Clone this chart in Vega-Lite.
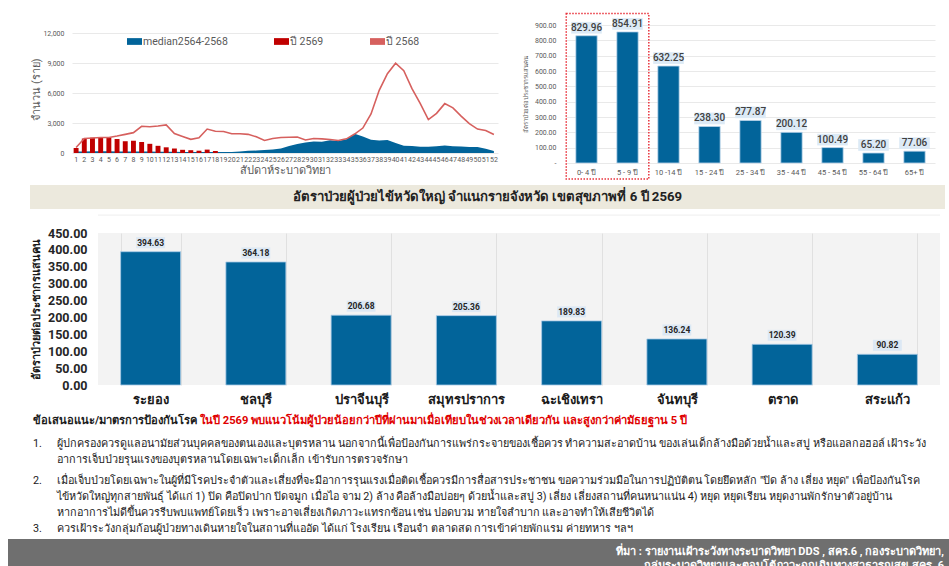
{
  "$schema": "https://vega.github.io/schema/vega-lite/v6.json",
  "background": "white",
  "padding": {"left": 8, "top": 12, "right": 0, "bottom": 0},
  "autosize": {"type": "pad"},
  "config": {
    "font": "Roboto",
    "view": {"stroke": null},
    "axis": {"domain": false, "ticks": false, "labelColor": "#595959", "titleColor": "#595959", "titleFontWeight": "normal", "gridColor": "#e9e9e9"}
  },
  "resolve": {"scale": {"color": "independent"}, "legend": {"color": "independent"}},
  "spacing": 5,
  "vconcat": [
    {
      "spacing": 0,
      "hconcat": [
        {"width": 22, "height": 1, "data": {"values": []}, "mark": "point"},
        {
          "spacing": 24,
          "hconcat": [
            {
              "width": 426,
              "height": 128,
              "layer": [
                {
                  "data": {"name": "weekly"},
                  "mark": {"type": "area", "opacity": 1},
                  "encoding": {
                    "x": {"field": "week", "type": "ordinal", "bandPosition": 0.5, "scale": {"type": "band", "paddingInner": 0.4, "paddingOuter": 0.2}, "axis": {"title": "สัปดาห์ระบาดวิทยา", "labelAngle": 0, "labelFontSize": 7, "labelPadding": 2, "titleFontSize": 11, "titlePadding": 2, "labelOverlap": false}},
                    "y": {"field": "median", "type": "quantitative", "scale": {"domain": [0, 12832], "nice": false},
                      "axis": {"title": "จำนวน (ราย)", "values": [0, 3000, 6000, 9000, 12000], "labelExpr": "format(datum.value, ',')", "labelFontSize": 7, "labelPadding": 8, "titleFontSize": 11, "titlePadding": 2, "minExtent": 29, "maxExtent": 29, "grid": true}},
                    "color": {"datum": "median2564-2568", "type": "nominal",
                      "scale": {"domain": ["median2564-2568", "ปี 2569", "ปี 2568"], "range": ["#02649a", "#c00000", "#d6605e"]},
                      "legend": {"orient": "none", "legendX": 119, "legendY": 9, "direction": "horizontal", "title": null, "labelFontSize": 10.5, "labelColor": "#595959", "symbolSize": 225, "symbolType": "M-1,-0.45H1V0.45H-1Z", "symbolStrokeWidth": 0, "columnPadding": 46, "labelOffset": 1}
                    }
                  }
                },
                {
                  "data": {"name": "weekly"},
                  "mark": {"type": "bar"},
                  "encoding": {
                    "x": {"field": "week", "type": "ordinal", "scale": {"type": "band", "paddingInner": 0.4, "paddingOuter": 0.2}, "axis": {"title": "สัปดาห์ระบาดวิทยา", "labelAngle": 0, "labelFontSize": 7, "labelPadding": 2, "titleFontSize": 11, "titlePadding": 2, "labelOverlap": false}},
                    "y": {"field": "y2569", "type": "quantitative", "scale": {"domain": [0, 12832], "nice": false},
                      "axis": {"title": "จำนวน (ราย)", "values": [0, 3000, 6000, 9000, 12000], "labelExpr": "format(datum.value, ',')", "labelFontSize": 7, "labelPadding": 8, "titleFontSize": 11, "titlePadding": 2, "minExtent": 29, "maxExtent": 29, "grid": true}},
                    "color": {"datum": "ปี 2569", "type": "nominal"}
                  }
                },
                {
                  "data": {"name": "weekly"},
                  "mark": {"type": "line", "strokeWidth": 1.6},
                  "encoding": {
                    "x": {"field": "week", "type": "ordinal", "bandPosition": 0.5, "scale": {"type": "band", "paddingInner": 0.4, "paddingOuter": 0.2}, "axis": {"title": "สัปดาห์ระบาดวิทยา", "labelAngle": 0, "labelFontSize": 7, "labelPadding": 2, "titleFontSize": 11, "titlePadding": 2, "labelOverlap": false}},
                    "y": {"field": "y2568", "type": "quantitative", "scale": {"domain": [0, 12832], "nice": false},
                      "axis": {"title": "จำนวน (ราย)", "values": [0, 3000, 6000, 9000, 12000], "labelExpr": "format(datum.value, ',')", "labelFontSize": 7, "labelPadding": 8, "titleFontSize": 11, "titlePadding": 2, "minExtent": 29, "maxExtent": 29, "grid": true}},
                    "color": {"datum": "ปี 2568", "type": "nominal"}
                  }
                }
              ]
            },
            {
              "width": 369,
              "height": 138,
              "layer": [
                {
                  "data": {"name": "ages"},
                  "mark": {"type": "bar", "color": "#02649a", "stroke": "#bcd6ec", "strokeWidth": 0.8},
                  "encoding": {
                    "x": {"field": "age", "type": "nominal", "sort": null, "scale": {"type": "band", "paddingInner": 0.48, "paddingOuter": 0.24}, "axis": {"title": null, "labelAngle": 0, "labelFontSize": 7.5, "labelPadding": 5}},
                    "y": {"field": "rate", "type": "quantitative", "scale": {"domain": [0, 900], "nice": false},
                      "axis": {"title": "อัตราป่วยต่อประชากรแสนคน", "titleFontSize": 6, "values": [0, 100, 200, 300, 400, 500, 600, 700, 800, 900], "labelExpr": "datum.value === 0 ? '-' : format(datum.value, ',.2f')", "labelFontSize": 7, "labelPadding": 10, "labelOverlap": false, "minExtent": 36, "maxExtent": 36, "titlePadding": 2, "grid": true}}
                  }
                },
                {
                  "data": {"name": "ages"},
                  "mark": {"type": "point", "shape": "M-1.7,-0.65H1.7V0.65H-1.7Z", "size": 324, "filled": true, "color": "#dceaf6", "opacity": 1, "yOffset": -8},
                  "encoding": {
                    "x": {"field": "age", "type": "nominal", "sort": null, "scale": {"type": "band", "paddingInner": 0.48, "paddingOuter": 0.24}, "axis": {"title": null, "labelAngle": 0, "labelFontSize": 7.5, "labelPadding": 5}},
                    "y": {"field": "rate", "type": "quantitative", "scale": {"domain": [0, 900], "nice": false},
                      "axis": {"title": "อัตราป่วยต่อประชากรแสนคน", "titleFontSize": 6, "values": [0, 100, 200, 300, 400, 500, 600, 700, 800, 900], "labelExpr": "datum.value === 0 ? '-' : format(datum.value, ',.2f')", "labelFontSize": 7, "labelPadding": 10, "labelOverlap": false, "minExtent": 36, "maxExtent": 36, "titlePadding": 2, "grid": true}}
                  }
                },
                {
                  "data": {"name": "ages"},
                  "mark": {"type": "text", "fontSize": 10, "fontWeight": 500, "color": "#404040", "dy": -8},
                  "encoding": {
                    "x": {"field": "age", "type": "nominal", "sort": null, "scale": {"type": "band", "paddingInner": 0.48, "paddingOuter": 0.24}, "axis": {"title": null, "labelAngle": 0, "labelFontSize": 7.5, "labelPadding": 5}},
                    "y": {"field": "rate", "type": "quantitative", "scale": {"domain": [0, 900], "nice": false},
                      "axis": {"title": "อัตราป่วยต่อประชากรแสนคน", "titleFontSize": 6, "values": [0, 100, 200, 300, 400, 500, 600, 700, 800, 900], "labelExpr": "datum.value === 0 ? '-' : format(datum.value, ',.2f')", "labelFontSize": 7, "labelPadding": 10, "labelOverlap": false, "minExtent": 36, "maxExtent": 36, "titlePadding": 2, "grid": true}},
                    "text": {"field": "rate", "type": "quantitative", "format": ".2f"}
                  }
                },
                {
                  "data": {"values": [{}]},
                  "mark": {"type": "rect", "fill": "transparent", "stroke": "#e8323c", "strokeDash": [1.5, 1.5], "strokeWidth": 1.5},
                  "encoding": {
                    "x": {"datum": "0- 4 ปี", "type": "nominal", "bandPosition": -0.45, "scale": {"type": "band", "paddingInner": 0.48, "paddingOuter": 0.24}, "axis": {"title": null, "labelAngle": 0, "labelFontSize": 7.5, "labelPadding": 5}},
                    "x2": {"datum": "5 - 9 ปี", "bandPosition": 1.5},
                    "y": {"datum": 975, "type": "quantitative", "scale": {"domain": [0, 900], "nice": false},
                      "axis": {"title": "อัตราป่วยต่อประชากรแสนคน", "titleFontSize": 6, "values": [0, 100, 200, 300, 400, 500, 600, 700, 800, 900], "labelExpr": "datum.value === 0 ? '-' : format(datum.value, ',.2f')", "labelFontSize": 7, "labelPadding": 10, "labelOverlap": false, "minExtent": 36, "maxExtent": 36, "titlePadding": 2, "grid": true}},
                    "y2": {"datum": -105}
                  }
                }
              ]
            }
          ]
        }
      ]
    },
    {
      "spacing": 0,
      "hconcat": [
        {"width": 22, "height": 1, "data": {"values": []}, "mark": "point"},
        {
          "width": 915,
          "height": 24,
          "view": {"fill": "#ece9dd", "stroke": null},
          "data": {"values": [{"t": "อัตราป่วยผู้ป่วยไข้หวัดใหญ่ จำแนกรายจังหวัด เขตสุขภาพที่ 6 ปี 2569"}]},
          "mark": {"type": "text", "fontSize": 13.2, "fontWeight": "bold", "color": "#222222"},
          "encoding": {"text": {"field": "t", "type": "nominal"}}
        }
      ]
    },
    {
      "spacing": 0,
      "hconcat": [
        {"width": 22, "height": 1, "data": {"values": []}, "mark": "point"},
        {
          "width": 842,
          "height": 152,
          "view": {"fill": "#f3f3f3", "stroke": null},
          "layer": [
            {
              "data": {"values": [{}]},
              "mark": {"type": "rule", "color": "#eeeeee"},
              "encoding": {
                "y": {"datum": 503, "type": "quantitative", "scale": {"domain": [0, 450], "nice": false},
                  "axis": {"title": "อัตราป่วยต่อประชากรแสนคน", "titleFontSize": 11, "titleFontWeight": "bold", "titleColor": "#1a1a1a", "values": [0, 50, 100, 150, 200, 250, 300, 350, 400, 450], "labelExpr": "format(datum.value, '.2f')", "labelFontSize": 12.5, "labelFontWeight": "bold", "labelColor": "#262626", "labelPadding": 11, "labelOverlap": false, "minExtent": 55, "maxExtent": 55, "titlePadding": 2, "gridColor": "#e0e0e0"}}
              }
            },
            {
              "data": {"name": "prov"},
              "mark": {"type": "bar", "color": "#02649a", "stroke": "#a7c9e6", "strokeWidth": 0.8},
              "encoding": {
                "x": {"field": "province", "type": "nominal", "sort": null, "scale": {"type": "band", "paddingInner": 0.43, "paddingOuter": 0.215},
                  "axis": {"title": null, "labelAngle": 0, "labelFontSize": 13, "labelFontWeight": "bold", "labelColor": "#1a1a1a", "labelPadding": 8, "grid": true, "gridColor": "#e0e0e0", "tickBand": "extent"}},
                "y": {"field": "rate", "type": "quantitative", "scale": {"domain": [0, 450], "nice": false},
                  "axis": {"title": "อัตราป่วยต่อประชากรแสนคน", "titleFontSize": 11, "titleFontWeight": "bold", "titleColor": "#1a1a1a", "values": [0, 50, 100, 150, 200, 250, 300, 350, 400, 450], "labelExpr": "format(datum.value, '.2f')", "labelFontSize": 12.5, "labelFontWeight": "bold", "labelColor": "#262626", "labelPadding": 11, "labelOverlap": false, "minExtent": 55, "maxExtent": 55, "titlePadding": 2, "gridColor": "#e0e0e0"}}
              }
            },
            {
              "data": {"name": "prov"},
              "mark": {"type": "point", "shape": "M-1.7,-0.65H1.7V0.65H-1.7Z", "size": 289, "filled": true, "color": "#dce8f4", "opacity": 1, "yOffset": -9},
              "encoding": {
                "x": {"field": "province", "type": "nominal", "sort": null, "scale": {"type": "band", "paddingInner": 0.43, "paddingOuter": 0.215},
                  "axis": {"title": null, "labelAngle": 0, "labelFontSize": 13, "labelFontWeight": "bold", "labelColor": "#1a1a1a", "labelPadding": 8, "grid": true, "gridColor": "#e0e0e0", "tickBand": "extent"}},
                "y": {"field": "rate", "type": "quantitative", "scale": {"domain": [0, 450], "nice": false},
                  "axis": {"title": "อัตราป่วยต่อประชากรแสนคน", "titleFontSize": 11, "titleFontWeight": "bold", "titleColor": "#1a1a1a", "values": [0, 50, 100, 150, 200, 250, 300, 350, 400, 450], "labelExpr": "format(datum.value, '.2f')", "labelFontSize": 12.5, "labelFontWeight": "bold", "labelColor": "#262626", "labelPadding": 11, "labelOverlap": false, "minExtent": 55, "maxExtent": 55, "titlePadding": 2, "gridColor": "#e0e0e0"}}
              }
            },
            {
              "data": {"name": "prov"},
              "mark": {"type": "text", "fontSize": 8.5, "fontWeight": "bold", "color": "#262626", "dy": -9},
              "encoding": {
                "x": {"field": "province", "type": "nominal", "sort": null, "scale": {"type": "band", "paddingInner": 0.43, "paddingOuter": 0.215},
                  "axis": {"title": null, "labelAngle": 0, "labelFontSize": 13, "labelFontWeight": "bold", "labelColor": "#1a1a1a", "labelPadding": 8, "grid": true, "gridColor": "#e0e0e0", "tickBand": "extent"}},
                "y": {"field": "rate", "type": "quantitative", "scale": {"domain": [0, 450], "nice": false},
                  "axis": {"title": "อัตราป่วยต่อประชากรแสนคน", "titleFontSize": 11, "titleFontWeight": "bold", "titleColor": "#1a1a1a", "values": [0, 50, 100, 150, 200, 250, 300, 350, 400, 450], "labelExpr": "format(datum.value, '.2f')", "labelFontSize": 12.5, "labelFontWeight": "bold", "labelColor": "#262626", "labelPadding": 11, "labelOverlap": false, "minExtent": 55, "maxExtent": 55, "titlePadding": 2, "gridColor": "#e0e0e0"}},
                "text": {"field": "rate", "type": "quantitative", "format": ".2f"}
              }
            }
          ]
        }
      ]
    },
    {
      "spacing": 0,
      "vconcat": [
        {
          "width": 927,
          "height": 20,
          "data": {"values": [
            {"col": "head", "text": "ข้อเสนอแนะ/มาตรการป้องกันโรค"},
            {"col": "note", "text": "ในปี 2569 พบแนวโน้มผู้ป่วยน้อยกว่าปีที่ผ่านมาเมื่อเทียบในช่วงเวลาเดียวกัน และสูงกว่าค่ามัธยฐาน 5 ปี"}
          ]},
          "mark": {"type": "text", "align": "left", "fontSize": 11.2, "fontWeight": "bold"},
          "encoding": {
            "x": {"field": "col", "type": "nominal", "scale": {"type": "point", "domain": ["head", "note"], "range": [25, 192], "padding": 0}, "axis": null},
            "text": {"field": "text", "type": "nominal"},
            "color": {"condition": {"test": "datum.col === 'note'", "value": "#e00000"}, "value": "#1a1a1a"}
          }
        },
        {
          "width": 927,
          "height": 26,
          "data": {"values": [
            {"col": "num", "text": "1."},
            {"col": "body", "text": "ผู้ปกครองควรดูแลอนามัยส่วนบุคคลของตนเองและบุตรหลาน นอกจากนี้เพื่อป้องกันการแพร่กระจายของเชื้อควร ทำความสะอาดบ้าน ของเล่นเด็กล้างมือด้วยน้ำและสบู่ หรือแอลกอฮอล์ เฝ้าระวัง\nอาการเจ็บป่วยรุนแรงของบุตรหลานโดยเฉพาะเด็กเล็ก เข้ารับการตรวจรักษา"}
          ]},
          "mark": {"type": "text", "align": "left", "fontSize": 10.8, "color": "#1a1a1a", "lineBreak": "\n", "lineHeight": 16},
          "encoding": {
            "x": {"field": "col", "type": "nominal", "scale": {"type": "point", "domain": ["num", "body"], "range": [25, 49], "padding": 0}, "axis": null},
            "text": {"field": "text", "type": "nominal"}
          }
        },
        {
          "width": 927,
          "height": 31,
          "data": {"values": [
            {"col": "num", "part": "first", "text": "2."},
            {"col": "body", "part": "first", "text": "เมื่อเจ็บป่วยโดยเฉพาะในผู้ที่มีโรคประจำตัวและเสี่ยงที่จะมีอาการรุนแรงเมื่อติดเชื้อควรมีการสื่อสารประชาชน ขอความร่วมมือในการปฏิบัติตน โดยยึดหลัก \"ปิด ล้าง เลี่ยง หยุด\" เพื่อป้องกันโรค\nไข้หวัดใหญ่ทุกสายพันธุ์ ได้แก่ 1) ปิด คือปิดปาก ปิดจมูก เมื่อไอ จาม 2) ล้าง คือล้างมือบ่อยๆ ด้วยน้ำและสบู่ 3) เลี่ยง เลี่ยงสถานที่คนหนาแน่น 4) หยุด หยุดเรียน หยุดงานพักรักษาตัวอยู่บ้าน\nหากอาการไม่ดีขึ้นควรรีบพบแพทย์โดยเร็ว เพราะอาจเสี่ยงเกิดภาวะแทรกซ้อน เช่น ปอดบวม หายใจลำบาก และอาจทำให้เสียชีวิตได้\nควรเฝ้าระวังกลุ่มก้อนผู้ป่วยทางเดินหายใจในสถานที่แออัด ได้แก่ โรงเรียน เรือนจำ ตลาดสด การเข้าค่ายพักแรม ค่ายทหาร ฯลฯ"},
            {"col": "num", "part": "last", "text": "3."}
          ]},
          "layer": [
            {
              "transform": [{"filter": "datum.part === 'first'"}],
              "mark": {"type": "text", "align": "left", "fontSize": 10.8, "color": "#1a1a1a", "lineBreak": "\n", "lineHeight": 16},
              "encoding": {
                "x": {"field": "col", "type": "nominal", "scale": {"type": "point", "domain": ["num", "body"], "range": [25, 49], "padding": 0}, "axis": null},
                "text": {"field": "text", "type": "nominal"}
              }
            },
            {
              "transform": [{"filter": "datum.part === 'last'"}],
              "mark": {"type": "text", "align": "left", "fontSize": 10.8, "color": "#1a1a1a", "dy": 48},
              "encoding": {
                "x": {"field": "col", "type": "nominal", "scale": {"type": "point", "domain": ["num", "body"], "range": [25, 49], "padding": 0}, "axis": null},
                "text": {"field": "text", "type": "nominal"}
              }
            }
          ]
        }
      ]
    },
    {
      "width": 941,
      "height": 30,
      "view": {"fill": "#6f6f6f", "stroke": null},
      "data": {"values": [{"src": "ที่มา :  รายงานเฝ้าระวังทางระบาดวิทยา DDS , สคร.6 , กองระบาดวิทยา,\nกลุ่มระบาดวิทยาและตอบโต้ภาวะฉุกเฉินทางสาธารณสุข สคร. 6"}]},
      "mark": {"type": "text", "align": "right", "lineBreak": "\n", "lineHeight": 14, "fontSize": 11, "fontWeight": "bold", "color": "white", "dx": -5, "dy": -2},
      "encoding": {
        "x": {"datum": 1, "type": "quantitative", "scale": {"domain": [0, 1]}, "axis": null},
        "text": {"field": "src", "type": "nominal"}
      }
    }
  ],
  "datasets": {
    "weekly": [
      {"week": 1, "median": 150, "y2569": 500, "y2568": 550},
      {"week": 2, "median": 160, "y2569": 1450, "y2568": 1450},
      {"week": 3, "median": 170, "y2569": 1530, "y2568": 1500},
      {"week": 4, "median": 170, "y2569": 1600, "y2568": 1560},
      {"week": 5, "median": 170, "y2569": 1560, "y2568": 1550},
      {"week": 6, "median": 160, "y2569": 1400, "y2568": 1700},
      {"week": 7, "median": 150, "y2569": 1180, "y2568": 1870},
      {"week": 8, "median": 150, "y2569": 1230, "y2568": 2040},
      {"week": 9, "median": 150, "y2569": 1100, "y2568": 2680},
      {"week": 10, "median": 140, "y2569": 920, "y2568": 2630},
      {"week": 11, "median": 130, "y2569": 720, "y2568": 2700},
      {"week": 12, "median": 130, "y2569": 570, "y2568": 2820},
      {"week": 13, "median": 120, "y2569": 450, "y2568": 1960},
      {"week": 14, "median": 110, "y2569": 320, "y2568": 1660},
      {"week": 15, "median": 100, "y2569": 280, "y2568": 1370},
      {"week": 16, "median": 100, "y2569": 230, "y2568": 1520},
      {"week": 17, "median": 100, "y2569": 340, "y2568": 2400},
      {"week": 18, "median": 100, "y2569": 200, "y2568": 2180},
      {"week": 19, "median": 100, "y2569": null, "y2568": 2150},
      {"week": 20, "median": 110, "y2569": null, "y2568": 1930},
      {"week": 21, "median": 140, "y2569": null, "y2568": 1930},
      {"week": 22, "median": 220, "y2569": null, "y2568": 1870},
      {"week": 23, "median": 240, "y2569": null, "y2568": 1620},
      {"week": 24, "median": 300, "y2569": null, "y2568": 1250},
      {"week": 25, "median": 360, "y2569": null, "y2568": 1450},
      {"week": 26, "median": 460, "y2569": null, "y2568": 1560},
      {"week": 27, "median": 700, "y2569": null, "y2568": 1580},
      {"week": 28, "median": 900, "y2569": null, "y2568": 1600},
      {"week": 29, "median": 1050, "y2569": null, "y2568": 1310},
      {"week": 30, "median": 1150, "y2569": null, "y2568": 1460},
      {"week": 31, "median": 1130, "y2569": null, "y2568": 1420},
      {"week": 32, "median": 1270, "y2569": null, "y2568": 1350},
      {"week": 33, "median": 1200, "y2569": null, "y2568": 1250},
      {"week": 34, "median": 1380, "y2569": null, "y2568": 1420},
      {"week": 35, "median": 1920, "y2569": null, "y2568": 1900},
      {"week": 36, "median": 1650, "y2569": null, "y2568": 2500},
      {"week": 37, "median": 1330, "y2569": null, "y2568": 3920},
      {"week": 38, "median": 1250, "y2569": null, "y2568": 6280},
      {"week": 39, "median": 1310, "y2569": null, "y2568": 7950},
      {"week": 40, "median": 1000, "y2569": null, "y2568": 9000},
      {"week": 41, "median": 720, "y2569": null, "y2568": 8250},
      {"week": 42, "median": 710, "y2569": null, "y2568": 6450},
      {"week": 43, "median": 620, "y2569": null, "y2568": 4980},
      {"week": 44, "median": 620, "y2569": null, "y2568": 3350},
      {"week": 45, "median": 680, "y2569": null, "y2568": 3980},
      {"week": 46, "median": 750, "y2569": null, "y2568": 4950},
      {"week": 47, "median": 680, "y2569": null, "y2568": 4530},
      {"week": 48, "median": 640, "y2569": null, "y2568": 3700},
      {"week": 49, "median": 610, "y2569": null, "y2568": 2950},
      {"week": 50, "median": 600, "y2569": null, "y2568": 2400},
      {"week": 51, "median": 430, "y2569": null, "y2568": 2250},
      {"week": 52, "median": 200, "y2569": null, "y2568": 1850}
    ],
    "ages": [
      {"age": "0- 4 ปี", "rate": 829.96},
      {"age": "5 - 9 ปี", "rate": 854.91},
      {"age": "10 -14 ปี", "rate": 632.25},
      {"age": "15 - 24 ปี", "rate": 238.30},
      {"age": "25 - 34 ปี", "rate": 277.87},
      {"age": "35 - 44 ปี", "rate": 200.12},
      {"age": "45 - 54 ปี", "rate": 100.49},
      {"age": "55 - 64 ปี", "rate": 65.20},
      {"age": "65+ ปี", "rate": 77.06}
    ],
    "prov": [
      {"province": "ระยอง", "rate": 394.63},
      {"province": "ชลบุรี", "rate": 364.18},
      {"province": "ปราจีนบุรี", "rate": 206.68},
      {"province": "สมุทรปราการ", "rate": 205.36},
      {"province": "ฉะเชิงเทรา", "rate": 189.83},
      {"province": "จันทบุรี", "rate": 136.24},
      {"province": "ตราด", "rate": 120.39},
      {"province": "สระแก้ว", "rate": 90.82}
    ]
  }
}
